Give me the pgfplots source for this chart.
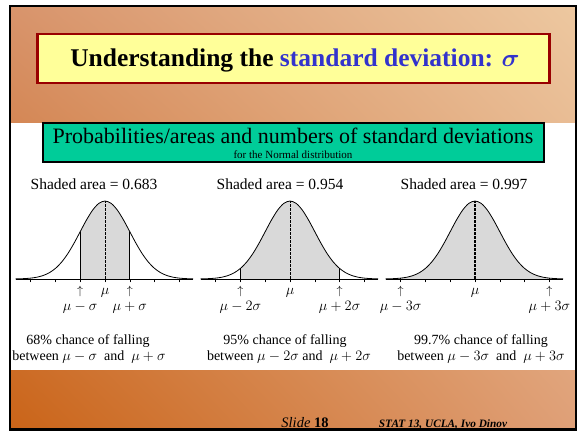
\documentclass[border=0pt]{standalone}
\usepackage{pgfplots}
\pgfplotsset{compat=1.18}
\usepackage{pgfplotstable}
\usetikzlibrary{shadings}
\usepackage{fontspec}
\setmainfont{Liberation Serif}

\definecolor{bgUL}{HTML}{D8946C}
\definecolor{bgUR}{HTML}{EDC8A0}
\definecolor{bgLL}{HTML}{CA6418}
\definecolor{bgLR}{HTML}{DFA078}
\definecolor{tyellow}{HTML}{FFFF99}
\definecolor{tborder}{HTML}{990000}
\definecolor{tblue}{HTML}{3333CC}
\definecolor{tgreen}{HTML}{00CC99}
\definecolor{shadegray}{HTML}{D9D9D9}

% standard normal density (x in units of sigma)
\pgfplotstableread{
x y
-3.6 0.00061
-3.5 0.00087
-3.25 0.00203
-3.0 0.00443
-2.75 0.00909
-2.5 0.01753
-2.25 0.03174
-2.0 0.05399
-1.75 0.08628
-1.5 0.12952
-1.25 0.18265
-1.0 0.24197
-0.75 0.30114
-0.5 0.35207
-0.25 0.38667
0 0.39894
0.25 0.38667
0.5 0.35207
0.75 0.30114
1.0 0.24197
1.25 0.18265
1.5 0.12952
1.75 0.08628
2.0 0.05399
2.25 0.03174
2.5 0.01753
2.75 0.00909
3.0 0.00443
3.25 0.00203
3.5 0.00087
3.55 0.00073
}\normaltab

\newcommand{\tl}[1]{\rule{0pt}{10pt}{\fontsize{12}{12}\selectfont$\uparrow$}\\#1}
\newcommand{\tm}{\rule{0pt}{10pt}$\mu$}

\pgfplotsset{normpanel/.style={
  x=24.8pt, y=195.5pt, xmin=-3.6, xmax=3.55, ymin=0, ymax=0.41,
  anchor=origin, hide y axis, axis x line*=bottom,
  axis line style={-, line width=0.9pt},
  xtick={-3,-2,-1,0,1,2,3}, tick align=outside, major tick length=3.5pt,
  tick style={black, line width=0.6pt},
  xticklabel style={anchor=north, align=center, inner sep=0pt, yshift=-1.5pt,
    font=\fontsize{15}{16}\selectfont},
  clip=false, axis on top,
}}

\begin{document}
\begin{tikzpicture}[x=1pt,y=1pt]
\useasboundingbox (0,0) rectangle (579,431);
\fill[white] (0,0) rectangle (579,431);
% slide background
\shade[upper left=bgUL, upper right=bgUR, lower left=bgLL, lower right=bgLR]
  (10,1.5) rectangle (576,425);
\fill[white] (10,61) rectangle (576,308);

% title box
\draw[fill=tyellow, draw=tborder, line width=2.4pt] (37.5,397) rectangle (549.5,348);
\node[anchor=base, font=\bfseries\fontsize{25.5}{30}\selectfont] at (295,364)
  {Understanding the \textcolor{tblue}{standard deviation: {\boldmath$\sigma$}}};

% green box
\draw[fill=tgreen, draw=black, line width=2pt] (43,308) rectangle (544,269);
\node[anchor=base, font=\fontsize{22}{26}\selectfont] at (293,287)
  {Probabilities/areas and numbers of standard deviations};
\node[anchor=base, font=\fontsize{11}{12}\selectfont] at (293,272.5)
  {for the Normal distribution};

% shaded-area captions
\node[anchor=base, font=\fontsize{15.5}{18}\selectfont] at (94,241) {Shaded area = 0.683};
\node[anchor=base, font=\fontsize{15.5}{18}\selectfont] at (280,241) {Shaded area = 0.954};
\node[anchor=base, font=\fontsize{15.5}{18}\selectfont] at (464,241) {Shaded area = 0.997};

% panel 1
\begin{axis}[normpanel, at={(105pt,152pt)},
  xticklabels={{},{},{\tl{$\mu-\sigma$}},{\tm},{\tl{$\mu+\sigma$}},{},{}}]
\addplot[fill=shadegray, draw=none, smooth, restrict x to domain=-1.001:1.001]
  table[x=x,y=y] {\normaltab} \closedcycle;
\addplot[black, line width=0.8pt, smooth] table[x=x,y=y] {\normaltab};
\addplot[black, line width=0.7pt] coordinates {(-1,0) (-1,0.24197)};
\addplot[black, line width=0.7pt] coordinates {(1,0) (1,0.24197)};
\addplot[black, line width=0.7pt, dash pattern=on 2.5pt off 1.5pt] coordinates {(0,0) (0,0.39894)};
\end{axis}

% panel 2
\begin{axis}[normpanel, at={(290pt,152pt)},
  xticklabels={{},{\tl{$\mu-2\sigma$}},{},{\tm},{},{\tl{$\mu+2\sigma$}},{}}]
\addplot[fill=shadegray, draw=none, smooth, restrict x to domain=-2.001:2.001]
  table[x=x,y=y] {\normaltab} \closedcycle;
\addplot[black, line width=0.8pt, smooth] table[x=x,y=y] {\normaltab};
\addplot[black, line width=0.7pt] coordinates {(-2,0) (-2,0.05399)};
\addplot[black, line width=0.7pt] coordinates {(2,0) (2,0.05399)};
\addplot[black, line width=0.7pt, dash pattern=on 2.5pt off 1.5pt] coordinates {(0,0) (0,0.39894)};
\end{axis}

% panel 3
\begin{axis}[normpanel, at={(475pt,152pt)},
  xticklabels={{\tl{$\mu-3\sigma$}},{},{},{\tm},{},{},{\tl{$\mu+3\sigma$}}}]
\addplot[fill=shadegray, draw=none, smooth, restrict x to domain=-3.001:3.001]
  table[x=x,y=y] {\normaltab} \closedcycle;
\addplot[black, line width=0.8pt, smooth] table[x=x,y=y] {\normaltab};
\addplot[black, line width=0.7pt] coordinates {(-3,0) (-3,0.00443)};
\addplot[black, line width=0.7pt] coordinates {(3,0) (3,0.00443)};
\addplot[black, line width=1.6pt, dash pattern=on 2.5pt off 1.5pt] coordinates {(0,0) (0,0.39894)};
\end{axis}

% bottom captions
\begin{scope}[every node/.style={anchor=base, font=\fontsize{14}{16}\selectfont, inner sep=1pt}]
\node at (88,86) {68\% chance of falling};
\node at (89,70) {between $\mu-\sigma$ \ and \ $\mu+\sigma$};
\node at (285,86) {95\% chance of falling};
\node at (289,70) {between $\mu-2\sigma$ and \ $\mu+2\sigma$};
\node at (481,86) {99.7\% chance of falling};
\node at (481,70) {between $\mu-3\sigma$ \ and \ $\mu+3\sigma$};
\end{scope}

% footer
\node[anchor=base, font=\fontsize{14.5}{16}\selectfont] at (305,3) {\textit{Slide} \textbf{18}};
\node[anchor=base, font=\bfseries\itshape\fontsize{11.3}{13}\selectfont] at (443,3) {STAT 13, UCLA, Ivo Dinov};

% frame
\draw[line width=2.4pt] (10,1.5) rectangle (576,425);
\end{tikzpicture}
\end{document}
